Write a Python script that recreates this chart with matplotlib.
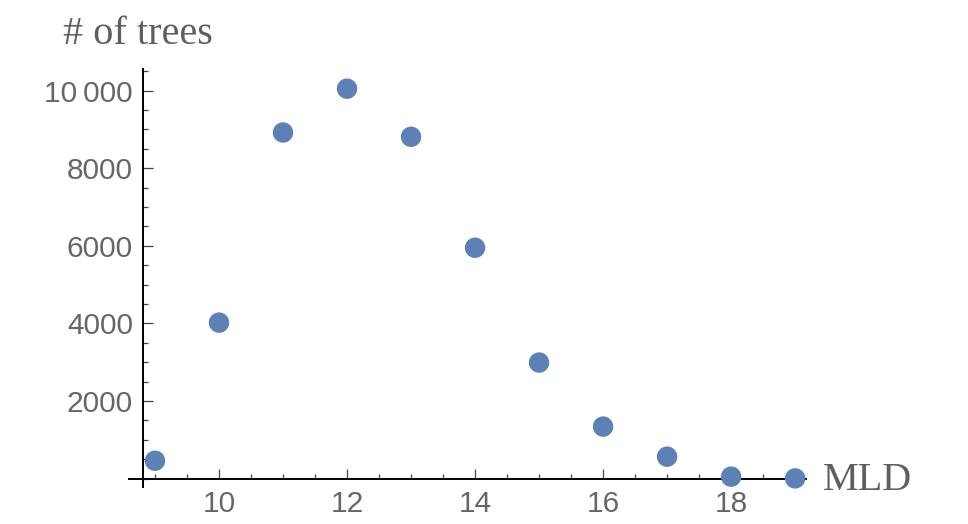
import numpy as np
import matplotlib
matplotlib.use("Agg")
import matplotlib.pyplot as plt
from matplotlib.ticker import MultipleLocator, FixedLocator, FixedFormatter

# data
mld = [9, 10, 11, 12, 13, 14, 15, 16, 17, 18, 19]
n_trees = [460, 4020, 8920, 10050, 8810, 5950, 2990, 1340, 565, 50, 5]

xticks = [10, 12, 14, 16, 18]
xtick_labels = ["10", "12", "14", "16", "18"]
yticks = [2000, 4000, 6000, 8000, 10000]
ytick_labels = ["2000", "4000", "6000", "8000", "10\u2009000"]

punto = "#5E81B5"
cinza = "#666666"

fig = plt.figure(figsize=(9.68, 5.24), dpi=100)
ax = fig.add_axes([0.0, 0.0, 1.0, 1.0])
# axes box: x axis line from px 129 to 806, y axis from px 69 to 487
l, r = 129 / 968, 806 / 968
b, t = 1 - 487 / 524, 1 - 69 / 524
ax.set_position([l, b, r - l, t - b])

ax.scatter(mld, n_trees, s=20 ** 2 * 0.54, color=punto, edgecolors="none",
           zorder=3, clip_on=False)

ax.set_xlim(8.594, 19.17)
ax.set_ylim(-217, 10557)

ax.spines["top"].set_visible(False)
ax.spines["right"].set_visible(False)
ax.spines["bottom"].set_position(("data", 0))
ax.spines["left"].set_position(("data", 8.81))
for s in ["bottom", "left"]:
    ax.spines[s].set_linewidth(1.4)
    ax.spines[s].set_color("black")

ax.xaxis.set_major_locator(FixedLocator(xticks))
ax.xaxis.set_major_formatter(FixedFormatter(xtick_labels))
ax.xaxis.set_minor_locator(MultipleLocator(0.5))
ax.yaxis.set_major_locator(FixedLocator(yticks))
ax.yaxis.set_major_formatter(FixedFormatter(ytick_labels))
ax.yaxis.set_minor_locator(MultipleLocator(500))

ax.tick_params(which="both", direction="in", color="#444444", width=0.9,
               labelcolor=cinza, labelsize=21.5)
ax.tick_params(which="major", length=7)
ax.tick_params(which="minor", length=3.5)
ax.tick_params(axis="x", pad=8)
ax.tick_params(axis="y", pad=7)
for lab in ax.get_xticklabels() + ax.get_yticklabels():
    lab.set_fontfamily("Liberation Sans")

fig.text(63 / 968, 1 - 34 / 524, "# of trees", fontsize=29,
         family="Liberation Serif", color="#5f5f5f", va="center", ha="left")
fig.text(823 / 968, 1 - 480 / 524, "MLD", fontsize=29,
         family="Liberation Serif", color="#5f5f5f", va="center", ha="left")

fig.savefig("out.png", dpi=100)
